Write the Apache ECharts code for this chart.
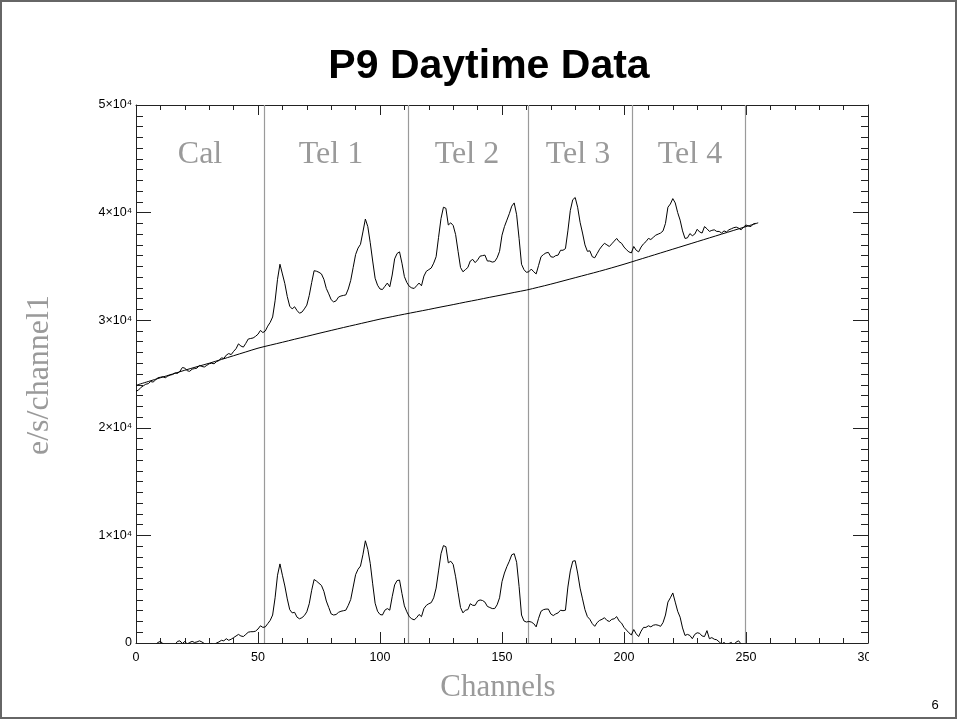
<!DOCTYPE html>
<html>
<head>
<meta charset="utf-8">
<script src="https://cdn.jsdelivr.net/npm/echarts@6/dist/echarts.min.js"></script>
<style>
html,body{margin:0;padding:0;background:#fff;}
#chart{width:958px;height:721px;}
</style>
</head>
<body>
<div id="chart"></div>
<script>
// ---- Data ----
var titleText = 'P9 Daytime Data';
var xAxisTitle = 'Channels';
var yAxisTitle = 'e/s/channel1';
var pageNumber = '6';
var sectionNames = ['Cal', 'Tel 1', 'Tel 2', 'Tel 3', 'Tel 4'];
var sectionBounds = [52.7, 111.7, 160.8, 203.5, 249.5];
var xTickValues = [0, 50, 100, 150, 200, 250, 300];
var xTickLabels = ['0', '50', '100', '150', '200', '250', '300'];
var yTickValues = [0, 10000, 20000, 30000, 40000, 50000];
var yTickLabels = ['0', '1×10⁴', '2×10⁴', '3×10⁴', '4×10⁴', '5×10⁴'];

// measured spectrum (channel index 0..254)
var measured = [
23400,23500,23750,23900,24050,24100,24300,24250,24450,24650,
24700,24750,24650,24800,24900,24950,25100,25050,25250,25600,
25550,25300,25250,25450,25500,25550,25800,25700,25650,25800,
25950,26000,25950,26150,26250,26500,26450,26750,26900,26800,
27100,27350,27800,27600,27500,27850,28250,28300,28350,28500,
28700,29050,28850,29000,29450,29800,30300,31800,33800,35200,
34300,33400,32200,31300,31050,31250,30900,30650,30750,31050,
31400,32300,33500,34600,34550,34450,34300,33800,32950,32450,
31900,31700,31800,32150,32250,32300,32350,32900,33700,34900,
36100,36700,37050,38200,39400,38700,37200,35500,33900,33250,
32900,32850,33150,33450,33100,34200,35700,36200,36350,35300,
34050,33500,33150,33000,32950,33200,33450,33200,34100,34550,
34700,34850,35300,35900,37700,39450,40500,40400,38850,39050,
38800,37950,36400,34900,34500,34700,34900,35500,35650,35350,
35600,35950,36000,36050,35500,35500,35400,35450,35800,36400,
37900,38700,39300,39900,40600,40900,39800,37600,35200,34700,
34450,34500,34750,34500,34300,35100,35900,36100,36250,36300,
35900,35850,36000,36050,36500,36500,36650,38300,40200,41200,
41400,40500,39100,38100,37000,36400,36450,35900,35800,36200,
36600,36900,37150,37000,36850,37100,37350,37600,37300,37150,
36800,36550,36350,36250,36850,36500,36350,36800,37100,37300,
37600,37500,37700,37900,38000,38100,38300,39000,40500,40800,
41300,40900,40000,39300,38300,37600,37650,38050,37850,38000,
38450,38200,38100,38700,38500,38250,38350,38400,38250,38250,
38100,38300,38200,38400,38500,38600,38650,38550,38400,38650,
38850,38750,38700,38950,39000
];

// smooth fitted background (every 5 channels)
var fitChannels = [0,5,10,15,20,25,30,35,40,45,50,55,60,65,70,75,80,85,90,95,100,105,110,115,120,125,130,135,140,145,150,155,160,165,170,175,180,185,190,195,200,205,210,215,220,225,230,235,240,245,250,255];
var fitValues = [23950,24300,24650,25000,25350,25680,26000,26350,26700,27050,27400,27680,27950,28230,28500,28780,29050,29320,29580,29840,30100,30330,30560,30780,31000,31230,31450,31680,31900,32130,32350,32580,32800,33070,33350,33650,33950,34250,34550,34870,35200,35550,35900,36250,36600,36950,37300,37650,38000,38350,38700,39050];

// background-subtracted spectrum (channel index 0..254)
var subtracted = [
-500,-400,-300,-250,-150,-250,-150,-300,-150,50,
150,-50,-250,-200,-150,-250,-150,150,200,-50,
150,-100,50,150,50,100,200,100,-50,-150,
-100,-50,-200,0,100,250,200,400,250,350,
500,650,800,650,600,800,1000,1050,1050,1100,
1300,1600,1450,1500,1800,2100,2600,4200,6300,7350,
6300,5300,4100,3100,2800,2850,2400,2250,2350,2550,
2900,3650,4900,5900,5750,5550,5350,4800,3900,3300,
2700,2600,2650,2850,2950,3000,3050,3500,4050,5200,
6350,6850,7150,8200,9500,8700,7400,5500,3700,2950,
2650,2600,3050,3200,3050,4300,5400,5800,5850,4600,
3450,2900,2450,2250,2150,2350,2650,2450,3200,3500,
3650,3750,4200,5100,6700,8300,9050,8950,7450,7600,
7300,6150,4700,3300,2800,3050,3100,3650,3500,3500,
3900,4000,3950,3800,3400,3300,3200,3200,3550,4200,
5700,6500,7100,7600,8200,8300,7500,5250,2600,2050,
1950,2000,1950,1800,1500,2300,2950,3100,3150,3150,
2700,2550,2700,2800,3050,3000,3050,5200,6700,7600,
7650,6500,5100,4100,3100,2450,2200,1800,1550,1900,
2100,2200,2350,2100,2000,2200,2250,2450,2050,1850,
1450,1200,950,750,1250,850,600,1100,1450,1450,
1600,1500,1650,1700,1650,1550,1900,2600,3800,4200,
4650,3800,2950,2400,1400,700,800,700,400,800,
950,900,650,600,1150,400,500,350,300,100,
-100,50,-150,-50,50,-200,100,200,-100,-200,
-300,-400,-350,-450,-500
];

// ---- Build ----
function byIndex(arr){ return arr.map(function(v,i){ return [i, v]; }); }
function zip(a,b){ return a.map(function(v,i){ return [v, b[i]]; }); }

var chart = echarts.init(document.getElementById('chart'), null, {renderer:'canvas'});

var GRID = {left:136, right:90, top:105, bottom:78};
var axisCol = '#222';
var grayCol = '#9a9a9a';
var serif = '"Liberation Serif", "Times New Roman", serif';
var sans = '"Liberation Sans", Arial, sans-serif';

function xLabel(v){ var i = xTickValues.indexOf(v); return i >= 0 ? xTickLabels[i] : ''; }
function yLabel(v){ var i = yTickValues.indexOf(v); return i >= 0 ? yTickLabels[i] : ''; }

var sectionCenters = [200, 331, 467, 578, 690];

var graphics = [
  {type:'rect', shape:{x:1, y:1, width:955, height:717}, style:{fill:null, stroke:'#666', lineWidth:2}, z:1, silent:true},
  {type:'rect', shape:{x:869, y:646, width:40, height:24}, style:{fill:'#fff'}, z:100, silent:true},
  {type:'text', x:489, y:67, style:{text:titleText, font:'bold 41px ' + sans, fill:'#000', textAlign:'center', textVerticalAlign:'middle'}, z:100},
  {type:'text', x:498, y:688, style:{text:xAxisTitle, font:'31px ' + serif, fill:grayCol, textAlign:'center', textVerticalAlign:'middle'}, z:100},
  {type:'text', x:40, y:375, rotation:Math.PI/2, style:{text:yAxisTitle, font:'32px ' + serif, fill:grayCol, textAlign:'center', textVerticalAlign:'middle'}, z:100},
  {type:'text', x:935, y:705, style:{text:pageNumber, font:'13px ' + sans, fill:'#000', textAlign:'center', textVerticalAlign:'middle'}, z:100}
];
sectionNames.forEach(function(n, i){
  graphics.push({type:'text', x:sectionCenters[i], y:155, style:{text:n, font:'32px ' + serif, fill:grayCol, textAlign:'center', textVerticalAlign:'middle'}, z:100});
});

var option = {
  animation:false,
  backgroundColor:'#fff',
  grid:GRID,
  xAxis:[
    {type:'value', min:0, max:300, interval:50, position:'bottom',
     axisLine:{show:true, onZero:false, lineStyle:{color:axisCol, width:1}},
     axisTick:{show:true, inside:true, length:11, lineStyle:{color:axisCol}},
     minorTick:{show:true, splitNumber:5, length:5, lineStyle:{color:axisCol}},
     splitLine:{show:false},
     axisLabel:{show:true, margin:8, color:'#000', fontSize:12.5, fontFamily:sans, showMaxLabel:true, formatter:xLabel}},
    {type:'value', min:0, max:300, interval:50, position:'top',
     axisLine:{show:true, onZero:false, lineStyle:{color:axisCol, width:1}},
     axisTick:{show:true, inside:true, length:10, lineStyle:{color:axisCol}},
     minorTick:{show:true, splitNumber:5, length:5, lineStyle:{color:axisCol}},
     splitLine:{show:false}, axisLabel:{show:false}}
  ],
  yAxis:[
    {type:'value', min:0, max:50000, interval:10000, position:'left',
     axisLine:{show:true, onZero:false, lineStyle:{color:axisCol, width:1}},
     axisTick:{show:true, inside:true, length:15, lineStyle:{color:axisCol}},
     minorTick:{show:true, splitNumber:10, length:7, lineStyle:{color:axisCol}},
     splitLine:{show:false},
     axisLabel:{show:true, margin:4, color:'#000', fontSize:12.5, fontFamily:sans, formatter:yLabel}},
    {type:'value', min:0, max:50000, interval:10000, position:'right',
     axisLine:{show:true, onZero:false, lineStyle:{color:axisCol, width:1}},
     axisTick:{show:true, inside:true, length:15, lineStyle:{color:axisCol}},
     minorTick:{show:true, splitNumber:10, length:7, lineStyle:{color:axisCol}},
     splitLine:{show:false}, axisLabel:{show:false}}
  ],
  series:[
    {type:'line', name:'measured', xAxisIndex:0, yAxisIndex:0, data:byIndex(measured), showSymbol:false, symbol:'none',
     lineStyle:{color:'#000', width:1}, z:5, clip:true,
     markLine:{silent:true, symbol:['none','none'], label:{show:false},
       lineStyle:{color:grayCol, width:1.2, type:'solid'},
       data:sectionBounds.map(function(b){ return {xAxis:b}; })}},
    {type:'line', name:'fit', xAxisIndex:0, yAxisIndex:0, data:zip(fitChannels, fitValues), showSymbol:false, symbol:'none', smooth:0.3,
     lineStyle:{color:'#000', width:1}, z:5, clip:true},
    {type:'line', name:'subtracted', xAxisIndex:0, yAxisIndex:0, data:byIndex(subtracted), showSymbol:false, symbol:'none',
     lineStyle:{color:'#000', width:1}, z:5, clip:true}
  ],
  graphic:graphics
};
chart.setOption(option);
</script>
</body>
</html>
